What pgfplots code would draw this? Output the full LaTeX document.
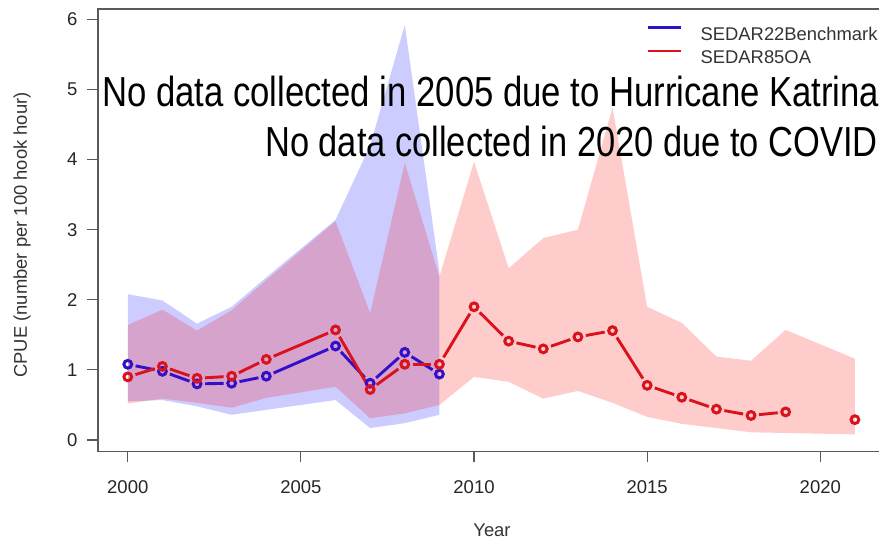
\documentclass[border=0pt]{standalone}
\usepackage{fontspec}
\setmainfont{Liberation Sans}
\usepackage{graphicx}
\usepackage{pgfplots}
\pgfplotsset{compat=1.18}
\definecolor{bline}{RGB}{50,15,200}
\definecolor{rline}{RGB}{218,18,28}
\definecolor{axgray}{RGB}{90,90,90}
\pgfplotsset{
  bseg/.style={bline, line width=2.9pt, shorten <=8pt, shorten >=8pt, forget plot},
  rseg/.style={rline, line width=2.9pt, shorten <=8pt, shorten >=8pt, forget plot},
}
\begin{document}
\begin{tikzpicture}[x=1pt,y=1pt]
\useasboundingbox (-98,-88.5) rectangle (781,451.5);
\clip (-98,-88.5) rectangle (781,451.5);
\begin{axis}[
  at={(0,0)}, anchor=south west,
  scale only axis, width=786pt, height=442.5pt,
  xmin=1999.14, xmax=2021.84, ymin=-0.164, ymax=6.148,
  axis line style={axgray, line width=1.1pt},
  tick style={axgray, line width=1.1pt},
  major tick length=11pt, tick align=outside,
  xtick={2000,2005,2010,2015,2020}, ytick={0,1,2,3,4,5,6},
  xtick pos=bottom, ytick pos=left,
  font=\fontsize{18.5}{22}\selectfont,
  tick label style={text=black!85},
  xticklabel style={yshift=-15pt},
  yticklabel style={xshift=-6pt},
  /pgf/number format/assume math mode=true,
  /pgf/number format/1000 sep={},
  legend image code/.code={\draw[#1] (0pt,6.5pt) -- (33pt,6.5pt); \path (51pt,0pt);},
  legend style={at={(0.6985,0.961)}, anchor=north west, draw=none, fill=none,
    font=\fontsize{18.4}{22}\selectfont, row sep=9pt, inner sep=0pt,
    nodes={inner sep=0pt, text height=13pt, text depth=0pt, text=black!80}},
  legend cell align=left,
]
% SEDAR22Benchmark band
\addplot[fill=blue, fill opacity=0.2, draw=none, forget plot] coordinates {
 (2000,2.08) (2001,1.99) (2002,1.66) (2003,1.90) (2004,2.32) (2006,3.14) (2007,4.20) (2008,5.92) (2009,2.40)
 (2009,0.36) (2008,0.24) (2007,0.17) (2006,0.57) (2004,0.43) (2003,0.36) (2002,0.48) (2001,0.57) (2000,0.55)
} -- cycle;
% SEDAR85OA band
\addplot[fill=red, fill opacity=0.2, draw=none, forget plot] coordinates {
 (2000,1.64) (2001,1.86) (2002,1.56) (2003,1.85) (2004,2.28) (2006,3.12) (2007,1.81) (2008,3.95) (2009,2.33)
 (2010,3.97) (2011,2.45) (2012,2.88) (2013,3.00) (2014,4.74) (2015,1.90) (2016,1.67) (2017,1.19) (2018,1.13)
 (2019,1.57) (2021,1.16)
 (2021,0.08) (2019,0.10) (2018,0.11) (2017,0.17) (2016,0.23) (2015,0.33) (2014,0.53) (2013,0.70) (2012,0.59)
 (2011,0.83) (2010,0.90) (2009,0.50) (2008,0.38) (2007,0.31) (2006,0.76) (2004,0.60) (2003,0.46) (2002,0.53)
 (2001,0.59) (2000,0.52)
} -- cycle;
% SEDAR22Benchmark line segments
\addplot[bseg] coordinates {(2000,1.08) (2001,0.98)};
\addplot[bseg] coordinates {(2001,0.98) (2002,0.80)};
\addplot[bseg] coordinates {(2002,0.80) (2003,0.81)};
\addplot[bseg] coordinates {(2003,0.81) (2004,0.91)};
\addplot[bseg] coordinates {(2004,0.91) (2006,1.34)};
\addplot[bseg] coordinates {(2006,1.34) (2007,0.81)};
\addplot[bseg] coordinates {(2007,0.81) (2008,1.25)};
\addplot[bseg] coordinates {(2008,1.25) (2009,0.94)};
\addplot[only marks, mark=o, mark size=3.9pt, bline, line width=3pt, forget plot] coordinates {
 (2000,1.08) (2001,0.98) (2002,0.80) (2003,0.81) (2004,0.91) (2006,1.34) (2007,0.81) (2008,1.25) (2009,0.94)};
% SEDAR85OA line segments
\addplot[rseg] coordinates {(2000,0.90) (2001,1.05)};
\addplot[rseg] coordinates {(2001,1.05) (2002,0.88)};
\addplot[rseg] coordinates {(2002,0.88) (2003,0.91)};
\addplot[rseg] coordinates {(2003,0.91) (2004,1.15)};
\addplot[rseg] coordinates {(2004,1.15) (2006,1.57)};
\addplot[rseg] coordinates {(2006,1.57) (2007,0.72)};
\addplot[rseg] coordinates {(2007,0.72) (2008,1.08)};
\addplot[rseg] coordinates {(2008,1.08) (2009,1.08)};
\addplot[rseg] coordinates {(2009,1.08) (2010,1.90)};
\addplot[rseg] coordinates {(2010,1.90) (2011,1.41)};
\addplot[rseg] coordinates {(2011,1.41) (2012,1.30)};
\addplot[rseg] coordinates {(2012,1.30) (2013,1.47)};
\addplot[rseg] coordinates {(2013,1.47) (2014,1.56)};
\addplot[rseg] coordinates {(2014,1.56) (2015,0.78)};
\addplot[rseg] coordinates {(2015,0.78) (2016,0.61)};
\addplot[rseg] coordinates {(2016,0.61) (2017,0.44)};
\addplot[rseg] coordinates {(2017,0.44) (2018,0.35)};
\addplot[rseg] coordinates {(2018,0.35) (2019,0.40)};
\addplot[only marks, mark=o, mark size=3.9pt, rline, line width=3pt, forget plot] coordinates {
 (2000,0.90) (2001,1.05) (2002,0.88) (2003,0.91) (2004,1.15) (2006,1.57) (2007,0.72) (2008,1.08) (2009,1.08)
 (2010,1.90) (2011,1.41) (2012,1.30) (2013,1.47) (2014,1.56) (2015,0.78) (2016,0.61) (2017,0.44) (2018,0.35)
 (2019,0.40) (2021,0.29)};
\addlegendimage{bline, line width=2.4pt}
\addlegendentry{SEDAR22Benchmark}
\addlegendimage{rline, line width=2.4pt}
\addlegendentry{SEDAR85OA}
\end{axis}
\node[anchor=base west, inner sep=0pt, font=\fontsize{42}{46}\selectfont] at (4,344.5)
  {\scalebox{0.826}[1]{No data collected in 2005 due to Hurricane Katrina}};
\node[anchor=base east, inner sep=0pt, font=\fontsize{42}{46}\selectfont] at (780,294.8)
  {\scalebox{0.82}[1]{No data collected in 2020 due to COVID}};
\node[rotate=90, inner sep=0pt, font=\fontsize{18.4}{22}\selectfont, text=black!80] at (-76,216.5)
  {CPUE (number per 100 hook hour)};
\node[anchor=base, inner sep=0pt, font=\fontsize{18.4}{22}\selectfont, text=black!80] at (394,-85.5) {Year};
\end{tikzpicture}
\end{document}
